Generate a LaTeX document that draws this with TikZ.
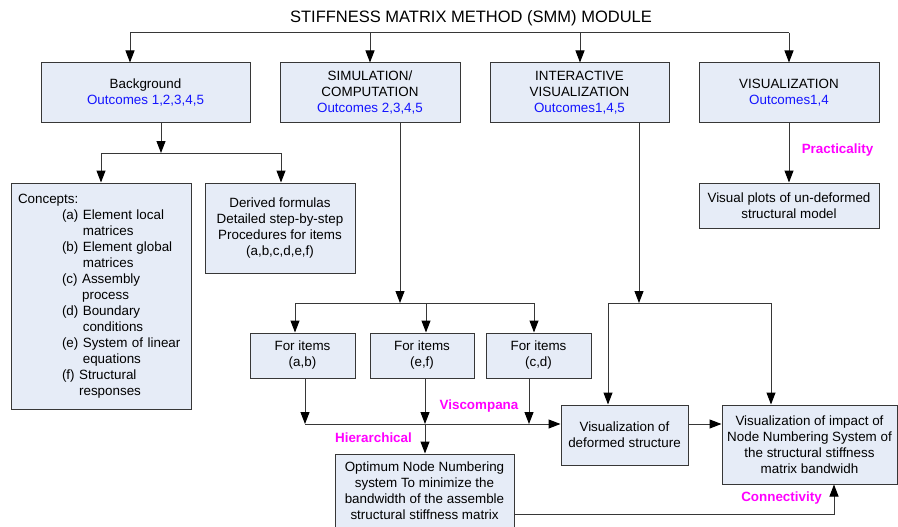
\documentclass[tikz,border=0pt]{standalone}
\usepackage{fontspec}
\setmainfont{Liberation Sans}
\usetikzlibrary{arrows.meta}
\definecolor{boxfill}{RGB}{230,236,247}
\definecolor{boxline}{RGB}{55,55,55}
\definecolor{outblue}{RGB}{20,20,255}
\definecolor{tagpink}{RGB}{255,0,255}
\tikzset{
  box/.style={draw=boxline, fill=boxfill, line width=1pt, align=center,
    inner sep=3pt, font=\fontsize{13.4}{16}\selectfont},
  wire/.style={draw=boxline, line width=1pt},
  flow/.style={wire, -{Triangle[width=9pt,length=12pt,color=black]}},
  tag/.style={text=tagpink, font=\fontsize{13.4}{16}\selectfont\bfseries},
}
\newcommand{\outc}[1]{\textcolor{outblue}{#1}}
\newcommand{\conceptitem}[3]{\hspace*{44pt}#1 #2\\\hspace*{44pt}\phantom{#1 }#3}
\begin{document}
\begin{tikzpicture}[x=1pt, y=-1pt]
  \useasboundingbox (0,0) rectangle (898,527);
  \clip (0,0) rectangle (898,527);
  % Title
  \node (title) at (471,18) {\fontsize{16.5}{20}\selectfont STIFFNESS MATRIX METHOD (SMM) MODULE};

  % Top row
  \node [box, minimum width=209, minimum height=60] (bg) at (145.5,93)
    {Background\\\outc{Outcomes 1,2,3,4,5}};
  \node [box, minimum width=180, minimum height=60] (sim) at (370,93)
    {SIMULATION/\\COMPUTATION\\\outc{Outcomes 2,3,4,5}};
  \node [box, minimum width=179, minimum height=60] (inter) at (579.5,93)
    {INTERACTIVE\\VISUALIZATION\\\outc{Outcomes1,4,5}};
  \node [box, minimum width=180, minimum height=60] (vis) at (789,93)
    {VISUALIZATION\\\outc{Outcomes1,4}};

  % Background branch
  \node [box, text width=166, align=left, inner sep=7pt, minimum height=226] (concepts) at (101,296)
    {Concepts:\\
     \conceptitem{(a)}{Element local}{matrices}\\
     \conceptitem{(b)}{Element global}{matrices}\\
     \conceptitem{(c)}{Assembly}{process}\\
     \conceptitem{(d)}{Boundary}{conditions}\\
     \conceptitem{(e)}{System of linear}{equations}\\
     \conceptitem{(f)}{Structural}{responses}};
  \node [box, minimum width=150, minimum height=90] (derived) at (280,228)
    {Derived formulas\\Detailed step-by-step\\Procedures for items\\(a,b,c,d,e,f)};

  % Visualization branch
  \node [box, minimum width=180, minimum height=45] (visplots) at (789,205.5)
    {Visual plots of un-deformed\\structural model};

  % Simulation branch
  \node [box, minimum width=105, minimum height=45] (ab) at (302.5,355.5) {For items\\(a,b)};
  \node [box, minimum width=104, minimum height=45] (ef) at (422,355.5) {For items\\(e,f)};
  \node [box, minimum width=105, minimum height=45] (cd) at (538.5,355.5) {For items\\(c,d)};
  \node [box, minimum width=179, minimum height=90] (optimum) at (424.5,499)
    {Optimum Node Numbering\\system To minimize the\\bandwidth of the assemble\\structural stiffness matrix\\\mbox{}};

  % Results
  \node [box, minimum width=127, minimum height=60] (deformed) at (624.5,435)
    {Visualization of\\deformed structure};
  \node [box, minimum width=175, minimum height=79] (impact) at (809.5,444.5)
    {Visualization of impact of\\Node Numbering System of\\the structural stiffness\\matrix bandwidh};

  % Tags
  \node [tag] (practicality) at (837.5,150) {Practicality};
  \node [tag] (viscompana) at (479,406) {Viscompana};
  \node [tag] (hierarchical) at (373.5,438) {Hierarchical};
  \node [tag] (connectivity) at (781.5,498) {Connectivity};

  % Top bus
  \coordinate (t1) at (130,33);
  \coordinate (t2) at (370,33);
  \coordinate (t3) at (580,33);
  \coordinate (t4) at (789,33);
  \draw [wire] (t1) -- (t4);
  \foreach \c/\n in {t1/bg, t2/sim, t3/inter, t4/vis}
    \draw [flow] (\c) -- (\c |- \n.north);

  % Background bus
  \coordinate (b0) at (161,153);
  \coordinate (b1) at (101,153);
  \coordinate (b2) at (281,153);
  \draw [flow] (b0 |- bg.south) -- (b0);
  \draw [wire] (b1) -- (b2);
  \draw [flow] (b1) -- (b1 |- concepts.north);
  \draw [flow] (b2) -- (b2 |- derived.north);

  % Simulation bus
  \coordinate (s0) at (400,303);
  \coordinate (s1) at (295,303);
  \coordinate (s2) at (426,303);
  \coordinate (s3) at (534,303);
  \draw [flow] (s0 |- sim.south) -- (s0);
  \draw [wire] (s1) -- (s3);
  \foreach \c/\n in {s1/ab, s2/ef, s3/cd}
    \draw [flow] (\c) -- (\c |- \n.north);

  % Items bus
  \coordinate (m1) at (305,424);
  \coordinate (m2) at (425,424);
  \coordinate (m3) at (529,424);
  \foreach \c/\n in {m1/ab, m2/ef, m3/cd}
    \draw [flow] (\c |- \n.south) -- (\c);
  \draw [flow] (m1) -- (m1 -| deformed.west);
  \draw [flow] (m2) -- (m2 |- optimum.north);

  % Interactive bus
  \coordinate (i0) at (639,303);
  \coordinate (i1) at (608,303);
  \coordinate (i2) at (771,303);
  \draw [flow] (i0 |- inter.south) -- (i0);
  \draw [wire] (i1) -- (i2);
  \draw [flow] (i1) -- (i1 |- deformed.north);
  \draw [flow] (i2) -- (i2 |- impact.north);

  % Remaining links
  \draw [flow] (vis.south) -- (visplots.north);
  \draw [flow] (m1 -| deformed.east) -- (m1 -| impact.west);
  \coordinate (c0) at (834,514);
  \draw [flow] (c0 -| optimum.east) -- (c0) -- (c0 |- impact.south);
\end{tikzpicture}
\end{document}
